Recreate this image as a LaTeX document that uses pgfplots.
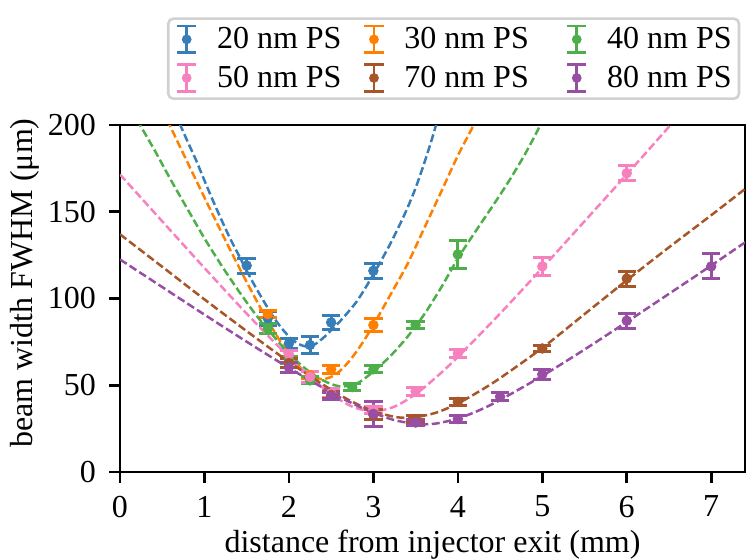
\documentclass[border=0pt]{standalone}
\usepackage{fontspec}
\setmainfont{Liberation Serif}
\usepackage{pgfplots}
\pgfplotsset{compat=1.18}
\definecolor{c20}{HTML}{377EB8}
\definecolor{c30}{HTML}{FF7F00}
\definecolor{c40}{HTML}{4DAF4A}
\definecolor{c50}{HTML}{F781BF}
\definecolor{c70}{HTML}{A65628}
\definecolor{c80}{HTML}{984EA3}
\newcommand{\fsz}{\fontsize{16}{19}\selectfont}
\pgfplotsset{
  pts/.style={only marks, mark=*, mark size=2.4pt, mark options={solid},
    error bars/.cd, y dir=both, y explicit,
    error bar style={line width=1.5pt, solid},
    error mark options={rotate=90, line width=1.5pt, mark size=4.6pt, solid}},
  fit/.style={no marks, smooth, line width=1.25pt, dash pattern=on 4pt off 1.75pt, forget plot},
}
\begin{document}
\begin{tikzpicture}
\begin{axis}[
  at={(0pt,0pt)}, anchor=south west,
  scale only axis, width=312.5pt, height=173.5pt,
  xmin=0, xmax=7.4, ymin=0, ymax=200,
  xtick={0,1,2,3,4,5,6,7}, ytick={0,50,100,150,200},
  tick align=outside, xtick pos=left, ytick pos=left,
  major tick length=5.3pt,
  every tick/.style={black, line width=1.3pt},
  axis line style={line width=1.3pt},
  /pgf/number format/assume math mode=true,
  tick label style={font=\fsz},
  xticklabel style={anchor=north, inner sep=0pt, yshift=-6.5pt},
  yticklabel style={anchor=east, inner sep=0pt, xshift=-6.5pt},
  label style={font=\fsz},
  xlabel={distance from injector exit (mm)},
  ylabel={beam width FWHM (μm)},
  xlabel style={at={(axis description cs:0.5,-0.2334)}, anchor=base},
  ylabel style={at={(axis description cs:-0.1392,0.545)}, anchor=base},
  legend columns=3,
  legend cell align=left,
  legend image code/.code={
    \draw[#1, solid, line width=1.4pt] (4.85pt,-6.65pt) -- (4.85pt,6.65pt);
    \draw[#1, solid, line width=1.4pt] (0pt,-6.65pt) -- (9.7pt,-6.65pt) (0pt,6.65pt) -- (9.7pt,6.65pt);
    \fill[#1] (4.85pt,0pt) circle (1.75pt);
  },
  legend style={at={(axis description cs:0.0752,1.0721)}, anchor=south west,
    draw=black!18, line width=1.3pt, rounded corners=2.5pt, fill=white,
    inner xsep=3.65pt, inner ysep=3pt, row sep=4.6pt,
    font=\fsz, nodes={inner sep=0pt},
    /tikz/every odd column/.append style={column sep=9.65pt},
    /tikz/every even column/.append style={column sep=10.65pt}},
]
% 20 nm
\addplot[color=c20, pts] coordinates {
 (1.5,119.0) +- (0,4.3) (1.75,88.6) +- (0,4) (2.0,74.1) +- (0,3)
 (2.25,73.2) +- (0,5) (2.5,86.2) +- (0,4) (3.0,116.0) +- (0,4.3)};
\addlegendentry{20 nm PS}
\addplot[color=c20, fit] coordinates {
 (0.6,213) (0.7,201.5) (0.8,190.5) (0.9,179.8) (1.0,168) (1.1,156.5) (1.2,145.5)
 (1.3,135) (1.4,125.5) (1.5,116) (1.6,107) (1.7,98.6) (1.8,90.6) (1.9,83.7)
 (2.0,78.2) (2.1,74.2) (2.2,72.4) (2.3,73.4) (2.4,77.0) (2.5,81.7) (2.6,86.6)
 (2.7,92.1) (2.8,98.1) (2.9,105.6) (3.0,114) (3.1,122.5) (3.2,131.5) (3.3,141.3)
 (3.4,151.8) (3.5,163.7) (3.6,177.7) (3.7,193) (3.8,210)};
% 30 nm
\addplot[color=c30, pts] coordinates {
 (1.75,91.0) +- (0,2) (2.0,62.8) +- (0,2.5) (2.25,55.8) +- (0,2)
 (2.5,59.2) +- (0,2.4) (3.0,84.7) +- (0,3.9)};
\addlegendentry{\makebox[70pt][l]{30 nm PS}}
\addplot[color=c30, fit] coordinates {
 (0.5,209) (0.7,188.5) (0.9,168.3) (1.1,148.2) (1.3,128.5) (1.5,109.5) (1.7,91.4)
 (1.9,75.1) (2.0,68) (2.1,62) (2.2,57.3) (2.3,54.4) (2.4,53.5) (2.5,54.8) (2.6,58.1)
 (2.7,63.1) (2.8,69.4) (2.9,76.6) (3.0,84.7) (3.2,102) (3.4,119.5) (3.6,140.3)
 (3.8,161.2) (4.0,182.3) (4.2,201)};
% 40 nm
\addplot[color=c40, pts] coordinates {
 (1.75,82.7) +- (0,2.7) (2.0,64.8) +- (0,2) (2.25,52.8) +- (0,2)
 (2.75,48.9) +- (0,1.9) (3.0,59.2) +- (0,2.1) (3.5,84.7) +- (0,1.9) (4.0,125.4) +- (0,8.3)};
\addlegendentry{40 nm PS}
\addplot[color=c40, fit] coordinates {
 (0.2,203) (0.4,186.3) (0.6,168.5) (0.8,151.5) (1.0,134.7) (1.2,119.2) (1.4,104.7)
 (1.6,91.2) (1.8,79.3) (2.0,68.3) (2.2,59.4) (2.4,52.9) (2.6,49.4) (2.8,50.9)
 (3.0,57.9) (3.2,66.8) (3.4,77.7) (3.6,90.7) (3.8,106.1) (4.0,123.1) (4.2,138)
 (4.4,152.4) (4.6,167.3) (4.8,183.6) (5.0,202)};
% 50 nm
\addplot[color=c50, pts] coordinates {
 (2.0,67.8) +- (0,2.5) (2.25,54.8) +- (0,3) (2.5,45.4) +- (0,2.5) (3.0,36.0) +- (0,2)
 (3.5,46.4) +- (0,2.4) (4.0,68.3) +- (0,2.4) (5.0,118.5) +- (0,5.3) (6.0,172.2) +- (0,4.3)};
\addlegendentry{50 nm PS}
\addplot[color=c50, fit] coordinates {
 (0,171.5) (0.5,144.5) (1.0,117.6) (1.5,91.3) (2.0,66.3) (2.25,54.9) (2.5,44.9)
 (2.75,37.7) (3.0,35) (3.25,37.7) (3.5,44.9) (3.75,54.9) (4.0,66.3) (4.5,91.3)
 (5.0,117.6) (5.5,144.5) (6.0,171.5) (6.5,199) (6.6,204.5)};
% 70 nm
\addplot[color=c70, pts] coordinates {
 (2.0,62.8) +- (0,2.5) (2.5,44.4) +- (0,2) (3.0,33.0) +- (0,3) (3.5,30.5) +- (0,1.9)
 (4.0,40.4) +- (0,1.9) (5.0,71.2) +- (0,1.5) (6.0,111.5) +- (0,4.3)};
\addlegendentry{\makebox[70pt][l]{70 nm PS}}
\addplot[color=c70, fit] coordinates {
 (0,137) (0.5,118.3) (1.0,99.5) (1.5,81.2) (2.0,63.5) (2.5,47.4) (2.75,40.5) (3.0,35)
 (3.25,31.8) (3.4,31.2) (3.5,31.5) (3.75,34.3) (4.0,39.5) (4.25,46.4) (4.5,54.1)
 (5.0,71.5) (5.5,91) (6.0,110.5) (6.5,129.5) (7.0,148) (7.45,165)};
% 80 nm
\addplot[color=c80, pts] coordinates {
 (2.0,60.3) +- (0,3) (2.5,43.9) +- (0,2) (3.0,33.5) +- (0,7.1) (3.5,28.5) +- (0,1.9)
 (4.0,30.5) +- (0,2.1) (4.5,43.4) +- (0,2.4) (5.0,56.3) +- (0,2.9) (6.0,87.2) +- (0,4.3)
 (7.0,118.5) +- (0,7.2)};
\addlegendentry{80 nm PS}
\addplot[color=c80, fit] coordinates {
 (0,122.5) (0.5,106.6) (1.0,90.7) (1.5,75.1) (2.0,60) (2.5,45.8) (2.75,39.6) (3.0,34.1)
 (3.25,29.9) (3.5,27.7) (3.6,27.5) (3.75,28) (4.0,30.8) (4.25,35.5) (4.5,41.5)
 (5.0,55.4) (5.5,70.6) (6.0,86.5) (6.5,102.7) (7.0,119) (7.45,134)};
\end{axis}
\pgfresetboundingbox
\path (-60pt,-43.5pt) rectangle (313pt,236pt);
\end{tikzpicture}
\end{document}
